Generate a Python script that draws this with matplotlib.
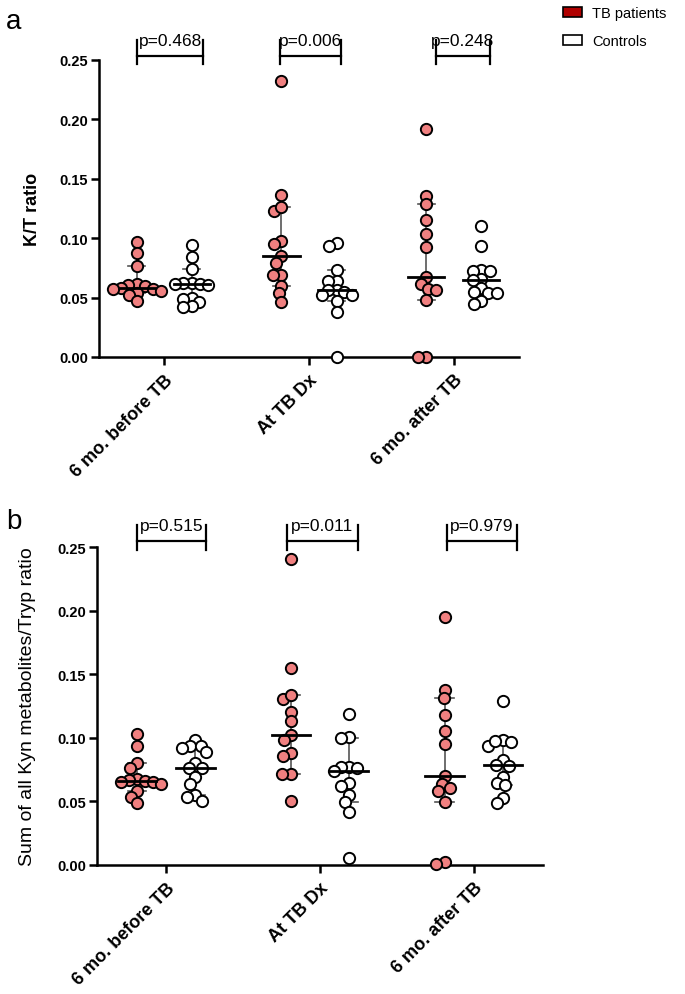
import numpy as np
import matplotlib
matplotlib.use('Agg')
import matplotlib.pyplot as plt
from matplotlib.patches import Patch
from math import comb

plt.rcParams['font.family'] = ['Liberation Sans', 'DejaVu Sans']

# ---------------- data ----------------
categories = ['6 mo. before TB', 'At TB Dx', '6 mo. after TB']
series_names = ['TB patients', 'Controls']

# Panel a: K/T ratio
kt_tb_before = [0.0967, 0.0872, 0.0763, 0.0612, 0.0610, 0.0598, 0.0584,
                0.0575, 0.0570, 0.0556, 0.0542, 0.0520, 0.0472]
kt_ctrl_before = [0.0940, 0.0845, 0.0738, 0.0626, 0.0626, 0.0612, 0.0612,
                  0.0604, 0.0500, 0.0492, 0.0464, 0.0430, 0.0417]
kt_tb_dx = [0.2320, 0.1365, 0.1230, 0.1265, 0.0975, 0.0948, 0.0850,
            0.0795, 0.0694, 0.0688, 0.0601, 0.0535, 0.0464]
kt_ctrl_dx = [0.0957, 0.0937, 0.0733, 0.0637, 0.0637, 0.0565, 0.0565,
              0.0543, 0.0518, 0.0518, 0.0473, 0.0378, 0.0000]
kt_tb_after = [0.1920, 0.1355, 0.1285, 0.1150, 0.1035, 0.0925, 0.0671,
               0.0618, 0.0576, 0.0568, 0.0478, 0.0000, 0.0000]
kt_ctrl_after = [0.1100, 0.0931, 0.0736, 0.0728, 0.0725, 0.0660, 0.0650,
                 0.0578, 0.0550, 0.0542, 0.0536, 0.0475, 0.0444]

# Panel b: Sum of all Kyn metabolites / Tryp ratio
kyn_tb_before = [0.1030, 0.0935, 0.0800, 0.0765, 0.0680, 0.0665, 0.0660,
                 0.0655, 0.0650, 0.0640, 0.0580, 0.0535, 0.0490]
kyn_ctrl_before = [0.0983, 0.0933, 0.0933, 0.0917, 0.0886, 0.0802, 0.0760,
                   0.0760, 0.0689, 0.0637, 0.0550, 0.0537, 0.0506]
kyn_tb_dx = [0.2406, 0.1546, 0.1305, 0.1336, 0.1205, 0.1132, 0.1022,
             0.0980, 0.0880, 0.0854, 0.0718, 0.0718, 0.0503]
kyn_ctrl_dx = [0.1190, 0.1006, 0.0996, 0.0773, 0.0773, 0.0760, 0.0736,
               0.0642, 0.0624, 0.0550, 0.0493, 0.0414, 0.0052]
kyn_tb_after = [0.1947, 0.1378, 0.1313, 0.1177, 0.1051, 0.0949, 0.0697,
                0.0634, 0.0603, 0.0579, 0.0498, 0.0021, 0.0008]
kyn_ctrl_after = [0.1287, 0.0985, 0.0964, 0.0938, 0.0972, 0.0823, 0.0776,
                  0.0784, 0.0692, 0.0647, 0.0629, 0.0527, 0.0485]

p_kt = ['p=0.468', 'p=0.006', 'p=0.248']
p_kyn = ['p=0.515', 'p=0.011', 'p=0.979']

yticks = [0.00, 0.05, 0.10, 0.15, 0.20, 0.25]
ytick_labels = ['0.00', '0.05', '0.10', '0.15', '0.20', '0.25']

ylabel_a = 'K/T ratio'
ylabel_b = 'Sum of all Kyn metabolites/Tryp ratio'

# ---------------- style ----------------
TB_FILL = '#F08080'
TB_LEGEND = '#B00000'
CTRL_FILL = 'white'
OFFSET = 0.19
MARKER_S = 66
MARKER_D_PX = 11.5

fig = plt.figure(figsize=(6.85, 9.95), dpi=100)
W, H = 685, 995
ax_a = fig.add_axes([99 / W, (H - 358) / H, 420 / W, 297 / H])
ax_b = fig.add_axes([97 / W, (H - 866) / H, 446 / W, 318 / H])


def median_ci(vals):
    s = np.sort(np.asarray(vals))
    n = len(s)
    cdf = 0.0
    j = 1
    for k in range(n + 1):
        cdf += comb(n, k) / 2 ** n
        if cdf > 0.025:
            j = k
            break
    j = max(j, 1)
    return np.median(s), s[j - 1], s[n - j]


def swarm(ax, xc, vals, d_px, frac=0.72):
    vals = np.asarray(vals)
    pts = ax.transData.transform(np.column_stack([np.full(len(vals), xc), vals]))
    cx = pts[0, 0]
    ys = pts[:, 1]
    order = np.argsort(-ys, kind='stable')
    placed = []
    xs = np.zeros(len(vals))
    dmin = d_px * frac
    for i in order:
        y = ys[i]
        intervals = []
        for (px, py) in placed:
            dy = abs(py - y)
            if dy < dmin:
                w = np.sqrt(dmin ** 2 - dy ** 2)
                intervals.append((px - w, px + w))
        cands = [cx] + [a for a, b in intervals] + [b for a, b in intervals]
        cands.sort(key=lambda c: (abs(c - cx), c))
        for c in cands:
            if all(not (a + 1e-6 < c < b - 1e-6) for a, b in intervals):
                xs[i] = c
                break
        placed.append((xs[i], y))
    data = ax.transData.inverted().transform(np.column_stack([xs, ys]))
    return data[:, 0]


def draw_panel(ax, groups_tb, groups_ctrl, pvals, brackets, bracket_y, ylabel, ylabel_size, ylabel_weight):
    ax.set_xlim(-0.45, 2.45)
    ax.set_ylim(0, 0.25)
    for sp in ['top', 'right']:
        ax.spines[sp].set_visible(False)
    for sp in ['left', 'bottom']:
        ax.spines[sp].set_linewidth(1.8)
    ax.set_yticks(yticks)
    ax.set_yticklabels(ytick_labels, fontsize=10.5, fontweight='bold')
    ax.set_xticks(range(len(categories)))
    ax.set_xticklabels(categories, fontsize=13, fontweight='bold', rotation=45,
                       ha='right', rotation_mode='anchor')
    ax.tick_params(axis='both', width=1.8, length=6, direction='out')
    ax.tick_params(axis='x', pad=4)
    ax.tick_params(axis='y', pad=2)

    for gi in range(len(categories)):
        for vals, sign, fill in [(groups_tb[gi], -1, TB_FILL), (groups_ctrl[gi], 1, CTRL_FILL)]:
            xc = gi + sign * OFFSET
            med, lo, hi = median_ci(vals)
            ax.plot([xc, xc], [lo, hi], color='#555555', lw=1.2, zorder=2)
            ax.plot([xc - 0.06, xc + 0.06], [lo, lo], color='#555555', lw=1.2, zorder=2)
            ax.plot([xc - 0.06, xc + 0.06], [hi, hi], color='#555555', lw=1.2, zorder=2)
            xs = swarm(ax, xc, vals, MARKER_D_PX)
            ax.scatter(xs, vals, s=MARKER_S, facecolor=fill, edgecolor='black',
                       linewidth=1.4, zorder=3, clip_on=False)
            ax.plot([xc - 0.125, xc + 0.125], [med, med], color='black', lw=2.0, zorder=4)

        x0, x1 = gi + brackets[gi][0], gi + brackets[gi][1]
        yh, ylo, yhi, ytxt = bracket_y
        ax.plot([x0, x1], [yh, yh], color='black', lw=1.6, clip_on=False)
        ax.plot([x0, x0], [ylo, yhi], color='black', lw=1.6, clip_on=False)
        ax.plot([x1, x1], [ylo, yhi], color='black', lw=1.6, clip_on=False)
        ax.text((x0 + x1) / 2, ytxt, pvals[gi], ha='center', va='baseline',
                fontsize=12.5, clip_on=False)

    ax.set_ylabel(ylabel, fontsize=ylabel_size, fontweight=ylabel_weight)
    ax.yaxis.set_label_coords(-0.137, 0.5)


draw_panel(ax_a,
           [kt_tb_before, kt_tb_dx, kt_tb_after],
           [kt_ctrl_before, kt_ctrl_dx, kt_ctrl_after],
           p_kt,
           [(-0.186, 0.269), (-0.20, 0.22), (-0.124, 0.248)],
           (0.2534, 0.2466, 0.2668, 0.2625),
           ylabel_a, 13, 'bold')

draw_panel(ax_b,
           [kyn_tb_before, kyn_tb_dx, kyn_tb_after],
           [kyn_ctrl_before, kyn_ctrl_dx, kyn_ctrl_after],
           p_kyn,
           [(-0.19, 0.26), (-0.215, 0.248), (-0.176, 0.28)],
           (0.2547, 0.2476, 0.2673, 0.2634),
           ylabel_b, 14, 'normal')

fig.text(6 / W, 1 - 22 / H, 'a', fontsize=20, va='center', ha='left')
fig.text(6 / W, 1 - 522 / H, 'b', fontsize=20, va='center', ha='left')

handles = [Patch(facecolor=TB_LEGEND, edgecolor='black', linewidth=1.2),
           Patch(facecolor='white', edgecolor='black', linewidth=1.2)]
fig.legend(handles, series_names, loc='upper left',
           bbox_to_anchor=(553 / W, 1 + 3 / H), frameon=False, fontsize=10.5,
           handlelength=1.3, handleheight=0.65, labelspacing=0.95, handletextpad=0.7,
           borderaxespad=0.3)

fig.savefig('out.png', dpi=100)
